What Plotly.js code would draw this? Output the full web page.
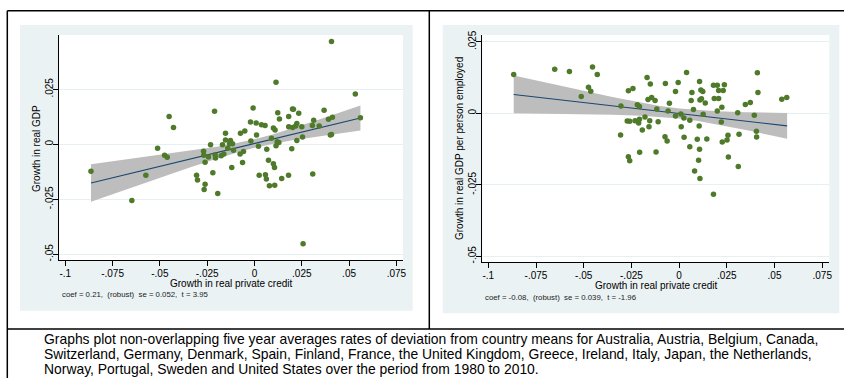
<!DOCTYPE html>
<html>
<head>
<meta charset="utf-8">
<script src="https://cdn.plot.ly/plotly-3.0.1.min.js"></script>
<style>
html,body{margin:0;padding:0;background:#fff;}
#chart{width:844px;height:378px;}
</style>
</head>
<body>
<div id="chart"></div>
<script>
// ---------- DATA ----------
// Left panel: growth in real private credit (x) vs growth in real GDP (y)
var leftCredit = [-0.0864,-0.0648,-0.0574,-0.0512,-0.0475,-0.0461,-0.0451,-0.0428,-0.0306,-0.0301,
  -0.0269,-0.0268,-0.0261,-0.0261,-0.0266,-0.0243,-0.0232,-0.0220,-0.0211,-0.0208,
  -0.0206,-0.0194,-0.0176,-0.0169,-0.0162,-0.0153,-0.0153,-0.0141,-0.0132,-0.0127,
  -0.0120,-0.0116,-0.0111,-0.0076,-0.0074,-0.0063,-0.0058,-0.0051,-0.0021,-0.0019,
  -0.0007,0.0009,0.0011,0.0021,0.0025,0.0037,0.0056,0.0058,0.0063,0.0065,
  0.0074,0.0079,0.0090,0.0100,0.0100,0.0106,0.0107,0.0109,0.0114,0.0114,
  0.0120,0.0123,0.0129,0.0132,0.0144,0.0180,0.0181,0.0181,0.0197,0.0201,
  0.0206,0.0202,0.0218,0.0224,0.0224,0.0234,0.0250,0.0254,0.0257,0.0306,
  0.0308,0.0313,0.0342,0.0368,0.0391,0.0401,0.0407,0.0412,0.0407,0.0533,0.0560];
var leftGDP = [-0.0123,-0.0256,-0.0141,-0.0018,-0.0050,-0.0059,0.0126,0.0077,-0.0141,-0.0162,
  -0.0032,-0.0050,-0.0082,-0.0182,-0.0205,-0.0058,-0.0002,-0.0129,0.0150,-0.0048,
  -0.0062,-0.0224,-0.0052,-0.0002,-0.0044,0.0050,0.0020,-0.0018,0.0002,0.0017,
  -0.0105,0.0002,-0.0027,-0.0044,0.0050,-0.0083,-0.0033,0.0061,0.0102,0.0015,
  0.0165,0.0097,0.0042,-0.0009,-0.0141,0.0089,0.0085,-0.0138,-0.0158,-0.0023,
  -0.0073,-0.0188,0.0027,0.0074,-0.0088,-0.0105,-0.0186,0.0065,0.0282,-0.0006,
  0.0012,0.0144,0.0008,0.0115,-0.0155,-0.0141,0.0127,0.0080,-0.0020,0.0161,
  0.0159,0.0076,0.0083,0.0095,0.0017,0.0141,0.0080,0.0033,-0.0452,0.0086,
  -0.0135,0.0109,0.0083,0.0155,0.0114,0.0042,0.0045,0.0123,0.0468,0.0229,0.0121];
var leftFitX = [-0.0864, 0.0560];
var leftFitY = [-0.0176, 0.0120];
var leftBandX = [-0.0864,-0.07,-0.05,-0.035,-0.02,-0.01,0,0.01,0.02,0.035,0.056];
var leftBandUpper = [-0.0091,-0.0072,-0.0049,-0.0031,-0.0011,0.0005,0.0023,0.0046,0.0073,0.0115,0.0177];
var leftBandLower = [-0.0261,-0.0212,-0.0152,-0.0108,-0.0066,-0.0039,-0.0016,0.0003,0.0018,0.0038,0.0063];

// Right panel: growth in real private credit (x) vs growth in real GDP per person employed (y)
var rightCredit = [-0.0867,-0.0652,-0.0575,-0.0513,-0.0475,-0.0463,-0.0454,-0.0429,-0.0305,-0.0307,
  -0.0266,-0.0242,-0.0272,-0.0259,-0.0266,-0.0259,-0.0231,-0.0219,-0.0208,-0.0212,
  -0.0208,-0.0207,-0.0193,-0.0179,-0.0168,-0.0163,-0.0154,-0.0158,-0.0151,-0.0144,
  -0.0126,-0.0117,-0.0121,-0.0110,-0.0072,-0.0074,-0.0063,-0.0058,-0.0051,-0.0019,
  -0.0019,-0.0005,0.0009,0.0011,0.0025,0.0026,0.0039,0.0056,0.0056,0.0063,
  0.0067,0.0075,0.0081,0.0095,0.0102,0.0105,0.0107,0.0107,0.0109,0.0109,
  0.0117,0.0114,0.0124,0.0126,0.0137,0.0145,0.0180,0.0180,0.0184,0.0200,
  0.0200,0.0207,0.0207,0.0221,0.0224,0.0226,0.0231,0.0237,0.0251,0.0256,
  0.0258,0.0307,0.0310,0.0314,0.0347,0.0373,0.0394,0.0405,0.0406,0.0410,0.0413,0.0538,0.0564];
var rightGDPpw = [0.0136,0.0154,0.0146,0.0059,0.0091,0.0077,0.0162,0.0136,0.0026,-0.0076,
  0.0079,0.0087,-0.0027,-0.0028,-0.0152,-0.0166,-0.0026,0.0030,0.0024,-0.0034,
  -0.0021,-0.0136,-0.0058,-0.0013,0.0125,0.0048,-0.0026,-0.0047,0.0103,0.0055,
  0.0045,0.0015,-0.0135,-0.0029,0.0104,-0.0082,-0.0097,0.0008,0.0035,-0.0009,
  0.0076,0.0108,-0.0002,-0.0047,-0.0016,-0.0084,0.0143,-0.0024,-0.0117,0.0045,
  0.0073,0.0013,-0.0202,-0.0091,-0.0164,-0.0044,0.0111,-0.0126,-0.0228,0.0047,
  0.0051,0.0082,0.0076,-0.0003,0.0036,-0.0090,-0.0283,0.0098,0.0052,0.0098,
  0.0008,0.0080,0.0052,-0.0030,0.0021,-0.0100,0.0080,0.0100,-0.0093,-0.0077,
  -0.0153,0.0002,-0.0186,-0.0073,0.0031,0.0038,-0.0007,-0.0063,-0.0083,0.0142,0.0073,0.0049,0.0055];
var rightFitX = [-0.0867, 0.0566];
var rightFitY = [0.0066, -0.0044];
var rightBandX = [-0.0867,-0.07,-0.05,-0.035,-0.02,-0.01,0,0.01,0.02,0.035,0.0566];
var rightBandUpper = [0.0132,0.0107,0.0078,0.0057,0.0038,0.0026,0.0017,0.0011,0.0007,0.0004,0.0001];
var rightBandLower = [0.0000,-0.0001,-0.0003,-0.0005,-0.0008,-0.0012,-0.0018,-0.0027,-0.0039,-0.0058,-0.0089];

// Tick labels
var xTickVals = [-0.1,-0.075,-0.05,-0.025,0,0.025,0.05,0.075];
var xTickText = ["-.1","-.075","-.05","-.025","0",".025",".05",".075"];
var yTickVals = [-0.05,-0.025,0,0.025];
var yTickText = ["-.05","-.025","0",".025"];

// Texts
var xTitle = "Growth in real private credit";
var leftYTitle = "Growth in real GDP";
var rightYTitle = "Growth in real GDP per person employed";
var leftNote = "coef = 0.21,\u00a0 (robust)\u00a0 se = 0.052,\u00a0 t = 3.95";
var rightNote = "coef = -0.08,\u00a0 (robust)\u00a0 se = 0.039,\u00a0 t = -1.96";
var captionLines = [
  "Graphs plot non-overlapping five year averages rates of deviation from country means for Australia, Austria, Belgium, Canada,",
  "Switzerland, Germany, Denmark, Spain, Finland, France, the United Kingdom, Greece, Ireland, Italy, Japan, the Netherlands,",
  "Norway, Portugal, Sweden and United States over the period from 1980 to 2010."
];

// ---------- STYLE / LAYOUT ----------
var W = 844, H = 378;
function px(x){ return x / W; }
function py(y){ return 1 - y / H; }
var FONT = "Arial, 'Liberation Sans', Helvetica, sans-serif";
var dotColor = "#4e7a2a";
var lineColor = "#1a476f";
var bandColor = "#bdbdbd";
var regionColor = "#eaf2f3";
var gridColor = "#e6eff1";

function bandTraces(xs, lo, hi, xa, ya){
  return [
    {x: xs, y: lo, xaxis: xa, yaxis: ya, type: "scatter", mode: "lines",
     line: {width: 0, color: bandColor}, hoverinfo: "skip"},
    {x: xs, y: hi, xaxis: xa, yaxis: ya, type: "scatter", mode: "lines",
     line: {width: 0, color: bandColor}, fill: "tonexty", fillcolor: bandColor, hoverinfo: "skip"}
  ];
}

var traces = []
  .concat(bandTraces(leftBandX, leftBandLower, leftBandUpper, "x", "y"))
  .concat([{x: leftFitX, y: leftFitY, xaxis: "x", yaxis: "y", type: "scatter", mode: "lines",
            line: {color: lineColor, width: 1.1}}])
  .concat([{x: leftCredit, y: leftGDP, xaxis: "x", yaxis: "y", type: "scatter", mode: "markers",
            marker: {color: dotColor, size: 5.5}}])
  .concat(bandTraces(rightBandX, rightBandLower, rightBandUpper, "x2", "y2"))
  .concat([{x: rightFitX, y: rightFitY, xaxis: "x2", yaxis: "y2", type: "scatter", mode: "lines",
            line: {color: lineColor, width: 1.1}}])
  .concat([{x: rightCredit, y: rightGDPpw, xaxis: "x2", yaxis: "y2", type: "scatter", mode: "markers",
            marker: {color: dotColor, size: 5.5}}]);

function xAxis(domain, range, anchor){
  return {domain: domain, range: range, anchor: anchor, showline: true, linecolor: "#000", linewidth: 1,
    ticks: "outside", ticklen: 5, tickwidth: 1, tickcolor: "#000", showgrid: false, zeroline: false,
    tickmode: "array", tickvals: xTickVals, ticktext: xTickText, ticklabelstandoff: -1,
    tickfont: {family: FONT, size: 10, color: "#000"}, fixedrange: true};
}
function yAxis(domain, range, anchor){
  return {domain: domain, range: range, anchor: anchor, showline: true, linecolor: "#000", linewidth: 1,
    ticks: "outside", ticklen: 5, tickwidth: 1, tickcolor: "#000", showgrid: true, gridcolor: gridColor,
    gridwidth: 1, zeroline: false, tickmode: "array", tickvals: yTickVals, ticktext: yTickText,
    tickangle: -90, ticklabelstandoff: -4, tickfont: {family: FONT, size: 10, color: "#000"}, fixedrange: true};
}

function rect(x0,y0,x1,y1,color){
  return {type: "rect", xref: "paper", yref: "paper", x0: px(x0), x1: px(x1), y0: py(y1), y1: py(y0),
    fillcolor: color, line: {width: 0}, layer: "below"};
}
function seg(x0,y0,x1,y1){
  return {type: "line", xref: "paper", yref: "paper", x0: px(x0), x1: px(x1), y0: py(y0), y1: py(y1),
    line: {color: "#000", width: 1.5}, layer: "above"};
}

var shapes = [
  rect(20, 25, 412.7, 310.7, regionColor),
  rect(442.7, 25, 839.3, 313.3, regionColor),
  rect(59, 35, 403, 260, "#ffffff"),
  rect(482.3, 35, 829.3, 262.3, "#ffffff"),
  seg(7.3, 10.7, 844, 10.7),
  seg(7.3, 10.7, 7.3, 378),
  seg(429.3, 10.7, 429.3, 329),
  seg(7.3, 329, 844, 329)
];

function ann(text, x, y, size, opts){
  var a = {text: text, xref: "paper", yref: "paper", x: px(x), y: py(y), showarrow: false,
    font: {family: FONT, size: size, color: "#000"}, xanchor: "center", yanchor: "middle", borderpad: 0};
  for (var k in (opts||{})) a[k] = opts[k];
  return a;
}

var annotations = [
  ann(xTitle, 231, 283, 10),
  ann(xTitle, 656, 285.5, 10),
  ann(leftYTitle, 36.7, 148.3, 10, {textangle: -90}),
  ann(rightYTitle, 459.7, 148.3, 10, {textangle: -90}),
  ann(leftNote, 60.5, 294.8, 7.8, {xanchor: "left", font: {family: FONT, size: 7.8, color: "#222"}}),
  ann(rightNote, 484, 297.3, 7.8, {xanchor: "left", font: {family: FONT, size: 7.8, color: "#222"}}),
  ann(captionLines[0], 43, 338.5, 13.9, {xanchor: "left"}),
  ann(captionLines[1], 43, 353.5, 13.9, {xanchor: "left"}),
  ann(captionLines[2], 43, 369, 13.9, {xanchor: "left"})
];

var layout = {
  width: W, height: H, margin: {l: 0, r: 0, t: 0, b: 0, pad: 0},
  paper_bgcolor: "#ffffff", plot_bgcolor: "rgba(0,0,0,0)", showlegend: false,
  font: {family: FONT, color: "#000"},
  xaxis: xAxis([px(59), px(403)], [-0.1033, 0.0785], "y"),
  yaxis: yAxis([py(260), py(35)], [-0.0526, 0.0497], "x"),
  xaxis2: xAxis([px(482.3), px(829.3)], [-0.10315, 0.0787], "y2"),
  yaxis2: yAxis([py(262.3), py(35)], [-0.0521, 0.0274], "x2"),
  shapes: shapes,
  annotations: annotations
};

Plotly.newPlot("chart", traces, layout, {staticPlot: true, displayModeBar: false});
</script>
</body>
</html>
